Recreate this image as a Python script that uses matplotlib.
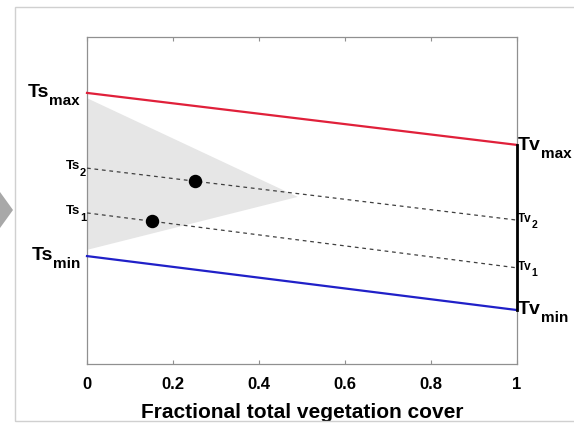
import matplotlib
matplotlib.use("Agg")
import matplotlib.pyplot as plt
from matplotlib.patches import Polygon, Rectangle

plt.rcParams['font.family'] = ['Liberation Sans', 'DejaVu Sans']

# data (arbitrary temperature scale 0..1)
x_ends = [0, 1]
ts_max_line = [0.829, 0.670]
ts_min_line = [0.330, 0.165]
iso2_line = [0.599, 0.440]
iso1_line = [0.462, 0.294]
points_x = [0.25, 0.15]
points_y = [0.559, 0.437]
tri_x = [0, 0.49, 0]
tri_y = [0.813, 0.511, 0.349]
xticks = [0, 0.2, 0.4, 0.6, 0.8, 1]
xtick_labels = ['0', '0.2', '0.4', '0.6', '0.8', '1']

fig = plt.figure(figsize=(5.74, 4.23), dpi=100)
fig.patches.append(Rectangle((15/574, 2/423), 1.2, 414/423, transform=fig.transFigure,
                             fill=False, edgecolor='#d0d0d0', linewidth=1))
fig.patches.append(Polygon([(0, 1-192/423), (13/574, 1-210/423), (0, 1-228/423)],
                           closed=True, transform=fig.transFigure,
                           facecolor='#a8a8a8', edgecolor='none'))

ax = fig.add_axes([87/574, 1-364/423, 430/574, 327/423])
ax.set_xlim(0, 1)
ax.set_ylim(0, 1)

ax.add_patch(Polygon(list(zip(tri_x, tri_y)), closed=True, facecolor='#e6e6e6',
                     edgecolor='none', zorder=1))
ax.plot(x_ends, ts_max_line, color='#e0203a', lw=1.6, zorder=3, clip_on=False)
ax.plot(x_ends, ts_min_line, color='#2020c8', lw=1.6, zorder=3, clip_on=False)
ax.plot(x_ends, iso2_line, color='#404040', lw=0.9, ls=(0, (3, 3)), zorder=3)
ax.plot(x_ends, iso1_line, color='#404040', lw=0.9, ls=(0, (3, 3)), zorder=3)
ax.plot([1, 1], [ts_min_line[1], ts_max_line[1]], color='black', lw=2, zorder=4,
        clip_on=False)
ax.scatter(points_x, points_y, s=75, color='black', zorder=5)

renderer = fig.canvas.get_renderer()


def left_label(y, main, sub, ms, ss, gap, base_dy, sub_dy):
    t = ax.annotate(sub, xy=(0, y), xycoords='data', xytext=(-gap, -(base_dy + sub_dy)),
                    textcoords='offset pixels', ha='right', va='baseline',
                    fontsize=ss, fontweight='bold', annotation_clip=False)
    w = t.get_window_extent(renderer).width
    ax.annotate(main, xy=(0, y), xycoords='data', xytext=(-gap - w, -base_dy),
                textcoords='offset pixels', ha='right', va='baseline',
                fontsize=ms, fontweight='bold', annotation_clip=False)


def right_label(y, main, sub, ms, ss, gap, base_dy, sub_dy):
    t = ax.annotate(main, xy=(1, y), xycoords='data', xytext=(gap, -base_dy),
                    textcoords='offset pixels', ha='left', va='baseline',
                    fontsize=ms, fontweight='bold', annotation_clip=False)
    w = t.get_window_extent(renderer).width
    ax.annotate(sub, xy=(1, y), xycoords='data', xytext=(gap + w, -(base_dy + sub_dy)),
                textcoords='offset pixels', ha='left', va='baseline',
                fontsize=ss, fontweight='bold', annotation_clip=False)


left_label(ts_max_line[0], 'Ts', 'max', 14, 11, 7, 4, 8)
left_label(ts_min_line[0], 'Ts', 'min', 14, 11, 7, 4, 8)
left_label(iso2_line[0], 'Ts', '2', 9.5, 8, 1, 1, 7)
left_label(iso1_line[0], 'Ts', '1', 9.5, 8, 1, 1, 7)
right_label(ts_max_line[1], 'Tv', 'max', 14, 11, 1, 5, 8)
right_label(ts_min_line[1], 'Tv', 'min', 14, 11, 1, 4, 8)
right_label(iso2_line[1], 'Tv', '2', 8.5, 7.5, 1, 2, 6)
right_label(iso1_line[1], 'Tv', '1', 8.5, 7.5, 1, 2, 6)

ax.set_xticks(xticks)
ax.set_xticklabels(xtick_labels, fontsize=12, fontweight='bold')
ax.set_yticks([])
ax.tick_params(axis='x', direction='in', length=3, top=True, color='#909090', pad=9)
for s in ax.spines.values():
    s.set_color('#909090')
    s.set_linewidth(0.9)
ax.set_xlabel('Fractional total vegetation cover', fontsize=15, fontweight='bold', labelpad=8)

fig.savefig('out.png', dpi=100)
